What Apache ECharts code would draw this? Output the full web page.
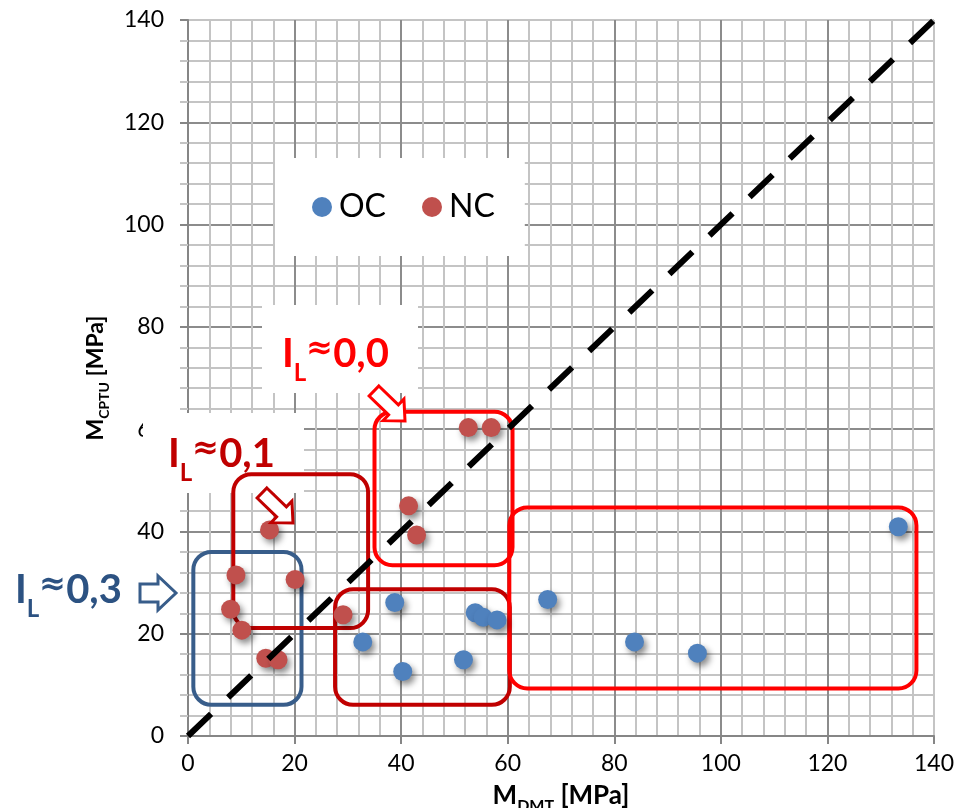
<!DOCTYPE html>
<html>
<head>
<meta charset="utf-8">
<script src="https://cdn.jsdelivr.net/npm/echarts@6/dist/echarts.min.js"></script>
<style>
html,body{margin:0;padding:0;background:#fff;overflow:hidden;}
#chart{width:957px;height:808px;}
</style>
</head>
<body>
<div id="chart"></div>
<script>
// ---- data ----
const ocX = [38.8, 32.8, 40.3, 51.7, 53.9, 55.4, 58.0, 67.5, 83.8, 95.6, 133.3];
const ocY = [26.1, 18.4, 12.6, 14.9, 24.1, 23.2, 22.7, 26.7, 18.4, 16.2, 40.9];
const ncX = [52.6, 56.9, 41.4, 42.9, 15.3, 9.0, 20.1, 8.0, 10.1, 14.6, 16.9, 29.1];
const ncY = [60.3, 60.3, 45.0, 39.3, 40.3, 31.5, 30.6, 24.8, 20.7, 15.2, 14.9, 23.7];
const lineX = [0, 140];
const lineY = [0, 140];
// annotation boxes: [x1, y1, x2, y2] in data units
const boxBlue = [1.0, 6.1, 21.3, 36.0];
const boxIL01 = [8.5, 21.1, 33.8, 51.2];
const boxLow = [27.6, 6.1, 60.4, 28.7];
const boxIL00 = [35.0, 33.4, 60.9, 63.4];
const boxBig = [60.3, 9.3, 136.7, 44.7];
const boxColors = ['#385D8A', '#C00000', '#C00000', '#FF0000', '#FF0000'];
const seriesNames = ['OC', 'NC'];
const axisTicks = [0, 20, 40, 60, 80, 100, 120, 140];

const zip = (a, b) => a.map((v, i) => [v, b[i]]);
const chart = echarts.init(document.getElementById('chart'));

function arrow(tail, tip, sh, hh, hl) {
  const dx = tip[0] - tail[0], dy = tip[1] - tail[1];
  const L = Math.hypot(dx, dy);
  const ux = dx / L, uy = dy / L, nx = -uy, ny = ux;
  const pt = (a, b) => [tail[0] + ux * a + nx * b, tail[1] + uy * a + ny * b];
  return [pt(0, -sh), pt(L - hl, -sh), pt(L - hl, -hh), pt(L, 0), pt(L - hl, hh), pt(L - hl, sh), pt(0, sh)];
}

const labelRich = (color) => ({
  a: { fontSize: 40, fontWeight: 'bold', fontFamily: 'Lato', fill: color, color: color, lineHeight: 44, verticalAlign: 'top' },
  c: { fontSize: 32, fontWeight: 'bold', fontFamily: 'DejaVu Sans', fill: color, color: color, lineHeight: 44, verticalAlign: 'top' },
  b: { fontSize: 24, fontWeight: 'bold', fontFamily: 'Lato', fill: color, color: color, lineHeight: 24, padding: [27, 0, 0, 0], verticalAlign: 'top' }
});

const shadow = { shadowBlur: 6, shadowOffsetX: 3, shadowOffsetY: 4, shadowColor: 'rgba(0,0,0,0.45)' };
const majorColors = axisTicks.map((v, i) => i === axisTicks.length - 1 ? '#c4c4c4' : '#8c8c8c');

const option = {
  animation: false,
  backgroundColor: '#fff',
  grid: { left: 188, right: 23, top: 20, bottom: 72, containLabel: false, outerBoundsMode: 'none' },
  legend: {
    data: seriesNames,
    left: 275, top: 158,
    padding: [32, 30, 32, 37],
    backgroundColor: '#fff',
    icon: 'circle',
    itemWidth: 20, itemHeight: 20, itemGap: 36,
    z: 20,
    itemStyle: { shadowBlur: 0, shadowOffsetX: 0, shadowOffsetY: 0, shadowColor: 'rgba(0,0,0,0)' },
    textStyle: { fontFamily: 'Lato', fontSize: 32, color: '#000', lineHeight: 34, padding: [0, 0, 0, 2] }
  },
  xAxis: {
    type: 'value', min: 0, max: 140, interval: 20,
    name: '{m|M}{s|DMT}{m| [MPa]}',
    nameLocation: 'middle', nameGap: 47,
    nameTextStyle: {
      rich: {
        m: { fontFamily: 'Lato', fontWeight: 'bold', fontSize: 26, color: '#000', lineHeight: 28, verticalAlign: 'top' },
        s: { fontFamily: 'Lato', fontWeight: 'bold', fontSize: 16, color: '#000', lineHeight: 16, padding: [15, 0, 0, 0], verticalAlign: 'top' }
      }
    },
    axisLine: { lineStyle: { color: '#868686', width: 2 } },
    axisTick: { show: true, length: 8, lineStyle: { color: '#868686', width: 2 } },
    minorTick: { show: false, splitNumber: 5 },
    axisLabel: { fontFamily: 'Lato', fontSize: 23, color: '#000', margin: 16, formatter: (v) => axisTicks.includes(v) ? String(v) : '' },
    splitLine: { show: true, lineStyle: { color: majorColors, width: 2 } },
    minorSplitLine: { show: true, lineStyle: { color: '#c4c4c4', width: 2 } }
  },
  yAxis: {
    type: 'value', min: 0, max: 140, interval: 20,
    name: '{m|M}{s|CPTU}{m| [MPa]}',
    nameLocation: 'middle', nameGap: 78, nameRotate: 90,
    nameTextStyle: {
      rich: {
        m: { fontFamily: 'Lato', fontWeight: 'bold', fontSize: 23, color: '#000', lineHeight: 26, verticalAlign: 'top' },
        s: { fontFamily: 'Lato', fontWeight: 'bold', fontSize: 14, color: '#000', lineHeight: 14, padding: [13, 0, 0, 0], verticalAlign: 'top' }
      }
    },
    axisLine: { show: true, lineStyle: { color: '#868686', width: 2 } },
    axisTick: { show: true, length: 8, lineStyle: { color: '#868686', width: 2 } },
    minorTick: { show: true, splitNumber: 5, length: 8, lineStyle: { color: '#c4c4c4', width: 2 } },
    axisLabel: { fontFamily: 'Lato', fontSize: 23, color: '#000', margin: 24 },
    splitLine: { show: true, lineStyle: { color: majorColors, width: 2 } },
    minorSplitLine: { show: true, lineStyle: { color: '#c4c4c4', width: 2 } }
  },
  series: [
    {
      name: 'boxes', type: 'custom', z: 3, clip: false, silent: true,
      data: [boxBlue, boxIL01, boxLow, boxIL00, boxBig],
      renderItem: function (params, api) {
        const p1 = api.coord([api.value(0), api.value(3)]);
        const p2 = api.coord([api.value(2), api.value(1)]);
        return {
          type: 'rect',
          shape: { x: p1[0], y: p1[1], width: p2[0] - p1[0], height: p2[1] - p1[1], r: 18 },
          style: { fill: 'none', stroke: boxColors[params.dataIndex], lineWidth: 4 }
        };
      }
    },
    {
      name: 'OC', type: 'scatter', z: 4, symbolSize: 19,
      itemStyle: Object.assign({ color: '#4F81BD', opacity: 1 }, shadow),
      data: zip(ocX, ocY)
    },
    {
      name: 'NC', type: 'scatter', z: 4, symbolSize: 19,
      itemStyle: Object.assign({ color: '#C0504D', opacity: 1 }, shadow),
      data: zip(ncX, ncY)
    },
    {
      name: 'line', type: 'line', z: 5, symbol: 'none', silent: true,
      lineStyle: { color: '#000', width: 6, type: [32, 23.6], cap: 'butt' },
      data: zip(lineX, lineY)
    }
  ],
  graphic: [
    { type: 'rect', z: 1, silent: true, shape: { x: 262, y: 305, width: 156, height: 88 }, style: { fill: '#fff' } },
    { type: 'rect', z: 1, silent: true, shape: { x: 143, y: 413, width: 161, height: 80 }, style: { fill: '#fff' } },
    { type: 'text', z: 10, x: 282, y: 334, style: { text: '{a|I}{b|L}{c|≈}{a|0,0}', rich: labelRich('#FF0000') } },
    { type: 'text', z: 10, x: 168, y: 434, style: { text: '{a|I}{b|L}{c|≈}{a|0,1}', rich: labelRich('#C00000') } },
    { type: 'text', z: 10, x: 15, y: 570, style: { text: '{a|I}{b|L}{c|≈}{a|0,3}', rich: labelRich('#2C5282') } },
    { type: 'polygon', z: 10, shape: { points: arrow([140, 593], [176, 593], 9, 17, 18) }, style: { fill: '#fff', stroke: '#385D8A', lineWidth: 3 } },
    { type: 'polygon', z: 10, shape: { points: arrow([262, 493], [293, 523], 7, 15, 16) }, style: { fill: '#fff', stroke: '#C00000', lineWidth: 3 } },
    { type: 'polygon', z: 10, shape: { points: arrow([374, 391], [405, 421], 7, 15, 16) }, style: { fill: '#fff', stroke: '#FF0000', lineWidth: 3 } }
  ]
};
chart.setOption(option);
</script>
</body>
</html>
